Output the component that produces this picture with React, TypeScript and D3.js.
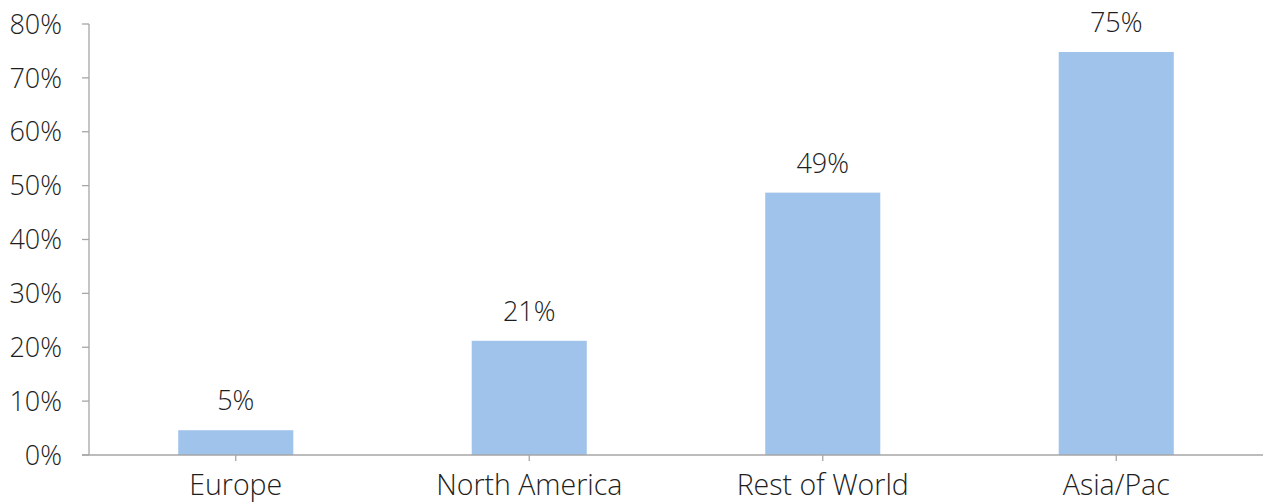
import React from "react";
import * as d3 from "d3";

const categories = ["Europe", "North America", "Rest of World", "Asia/Pac"];
const values = [0.046, 0.212, 0.487, 0.748];
const yTicks = [0, 0.1, 0.2, 0.3, 0.4, 0.5, 0.6, 0.7, 0.8];

const W = 1263;
const H = 504;
const FONT = "'Open Sans', 'Noto Sans', sans-serif";

export default function App() {
  const x = d3.scaleBand<string>().domain(categories).range([89, 1263]).padding(0);
  const y = d3.scaleLinear().domain([0, 0.8]).range([455, 24]);
  const fmt = d3.format(".0%");
  const bw = x.bandwidth() * 0.392;
  const axisColor = "#a6a6a6";
  const textColor = "#1e1e1e";

  return (
    <svg
      width={W}
      height={H}
      style={{ position: "absolute", left: 0, top: 0, background: "#fff" }}
      fontFamily={FONT}
      fontWeight={300}
    >
      {categories.map((c, i) => {
        const cx = x(c)! + x.bandwidth() / 2;
        return (
          <g key={c}>
            <rect x={cx - bw / 2} y={y(values[i])} width={bw} height={y(0) - y(values[i])} fill="#9fc3ea" />
            <text x={cx} y={y(values[i]) - 20} textAnchor="middle" fontSize={27} fill={textColor}>
              {fmt(values[i])}
            </text>
            <line x1={cx} x2={cx} y1={y(0)} y2={y(0) + 6} stroke={axisColor} strokeWidth={1.3} />
            <text x={cx} y={495} textAnchor="middle" fontSize={28.5} fill={textColor}>
              {c}
            </text>
          </g>
        );
      })}
      <line x1={89} x2={89} y1={y(0.8)} y2={y(0)} stroke={axisColor} strokeWidth={1.3} />
      {yTicks.map((t) => (
        <g key={t}>
          <line x1={82} x2={89} y1={y(t)} y2={y(t)} stroke={axisColor} strokeWidth={1.3} />
          <text x={62} y={y(t)} dy="0.36em" textAnchor="end" fontSize={27} fill={textColor}>
            {fmt(t)}
          </text>
        </g>
      ))}
      <line x1={82} x2={1263} y1={y(0)} y2={y(0)} stroke={axisColor} strokeWidth={1.3} />
    </svg>
  );
}
